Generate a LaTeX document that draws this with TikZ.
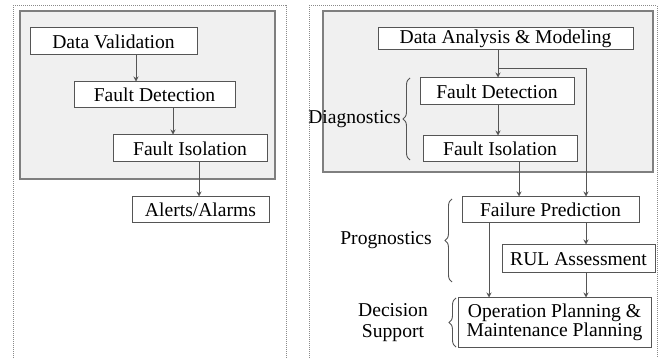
\documentclass[tikz,border=0pt]{standalone}
\usepackage{fontspec}
\setmainfont{Liberation Serif}
\newfontfamily\tnrfont{Liberation Serif}
\usetikzlibrary{arrows.meta,decorations.pathreplacing}
\definecolor{panelfill}{HTML}{F0F0F0}
\definecolor{panelline}{HTML}{7F7F7F}
\definecolor{boxline}{HTML}{555555}
\definecolor{dotline}{HTML}{8A8A8A}
\begin{document}
\begin{tikzpicture}[x=1pt,y=-1pt,
  every node/.style={font=\tnrfont\fontsize{19.6}{22}\selectfont, text=black},
  blk/.style={draw=boxline, line width=1pt, fill=white, inner sep=0pt, rectangle},
  panel/.style={draw=panelline, line width=1.6pt, fill=panelfill},
  frame/.style={draw=dotline, line width=1pt, densely dotted},
  conn/.style={draw=boxline, line width=1pt, -{Stealth[length=5pt,width=5pt]}},
  brc/.style={draw=boxline, line width=0.9pt, decorate, decoration={brace, amplitude=7pt}},
  lbl/.style={inner sep=0pt}
]
\useasboundingbox (0,0) rectangle (659,358);
% frames
\draw[frame] (13,358) -- (13,6) -- (286,6) -- (286,358);
\draw[frame] (309,358) -- (309,6) -- (657,6) -- (657,358);
% panels
\draw[panel] (20,11) rectangle (275,179);
\draw[panel] (323,11) rectangle (653,172);

% left column
\node[blk, minimum width=167pt, minimum height=27pt] (dv) at (113.5,41.5) {Data Validation};
\node[blk, minimum width=161pt, minimum height=26pt] (fd1) at (154.5,95) {Fault Detection};
\node[blk, minimum width=154pt, minimum height=27pt] (fi1) at (190,148.5) {Fault Isolation};
\node[blk, minimum width=137pt, minimum height=26pt] (aa) at (200.5,210) {Alerts/Alarms};

\draw[conn] (dv.south -| 136,0) -- (fd1.north -| 136,0);
\draw[conn] (fd1.south -| 173,0) -- (fi1.north -| 173,0);
\draw[conn] (fi1.south -| 199,0) -- (aa.north -| 199,0);

% right column
\node[blk, minimum width=255pt, minimum height=21.5pt] (dam) at (505.5,38.5) {Data Analysis \& Modeling};
\node[blk, minimum width=154pt, minimum height=27pt] (fd2) at (497,91.5) {Fault Detection};
\node[blk, minimum width=154pt, minimum height=26pt] (fi2) at (500,149) {Fault Isolation};
\node[blk, minimum width=177pt, minimum height=26pt] (fp) at (550.5,210) {Failure Prediction};
\node[blk, minimum width=153pt, minimum height=28pt] (rul) at (578.5,259) {RUL Assessment};
\node[blk, minimum width=193pt, minimum height=49pt, align=center] (op) at (554.5,322.5) {Operation Planning \&\\[-3pt]Maintenance Planning};

\coordinate (br) at (498,69);
\draw[conn] (dam.south -| br) -- (fd2.north -| br);
\draw[conn] (br) -- (586,69) -- (fp.north -| 586,0);
\draw[conn] (fd2.south -| 498,0) -- (fi2.north -| 498,0);
\draw[conn] (fi2.south -| 519,0) -- (fp.north -| 519,0);
\draw[conn] (fp.south -| 586,0) -- (rul.north -| 586,0);
\draw[conn] (fp.south -| 489,0) -- (op.north -| 489,0);
\draw[conn] (rul.south -| 586,0) -- (op.north -| 586,0);

% braces and labels
\draw[brc] (410,160) -- (410,78);
\node[lbl, anchor=east] (diag) at (401,119) {Diagnostics};
\draw[brc] (452,282) -- (452,199);
\node[lbl, anchor=east] (prog) at (432,240) {Prognostics};
\draw[brc] (456,347) -- (456,298);
\node[lbl, align=center] (ds) at (393,323) {Decision\\[-1pt]Support};
\end{tikzpicture}
\end{document}
